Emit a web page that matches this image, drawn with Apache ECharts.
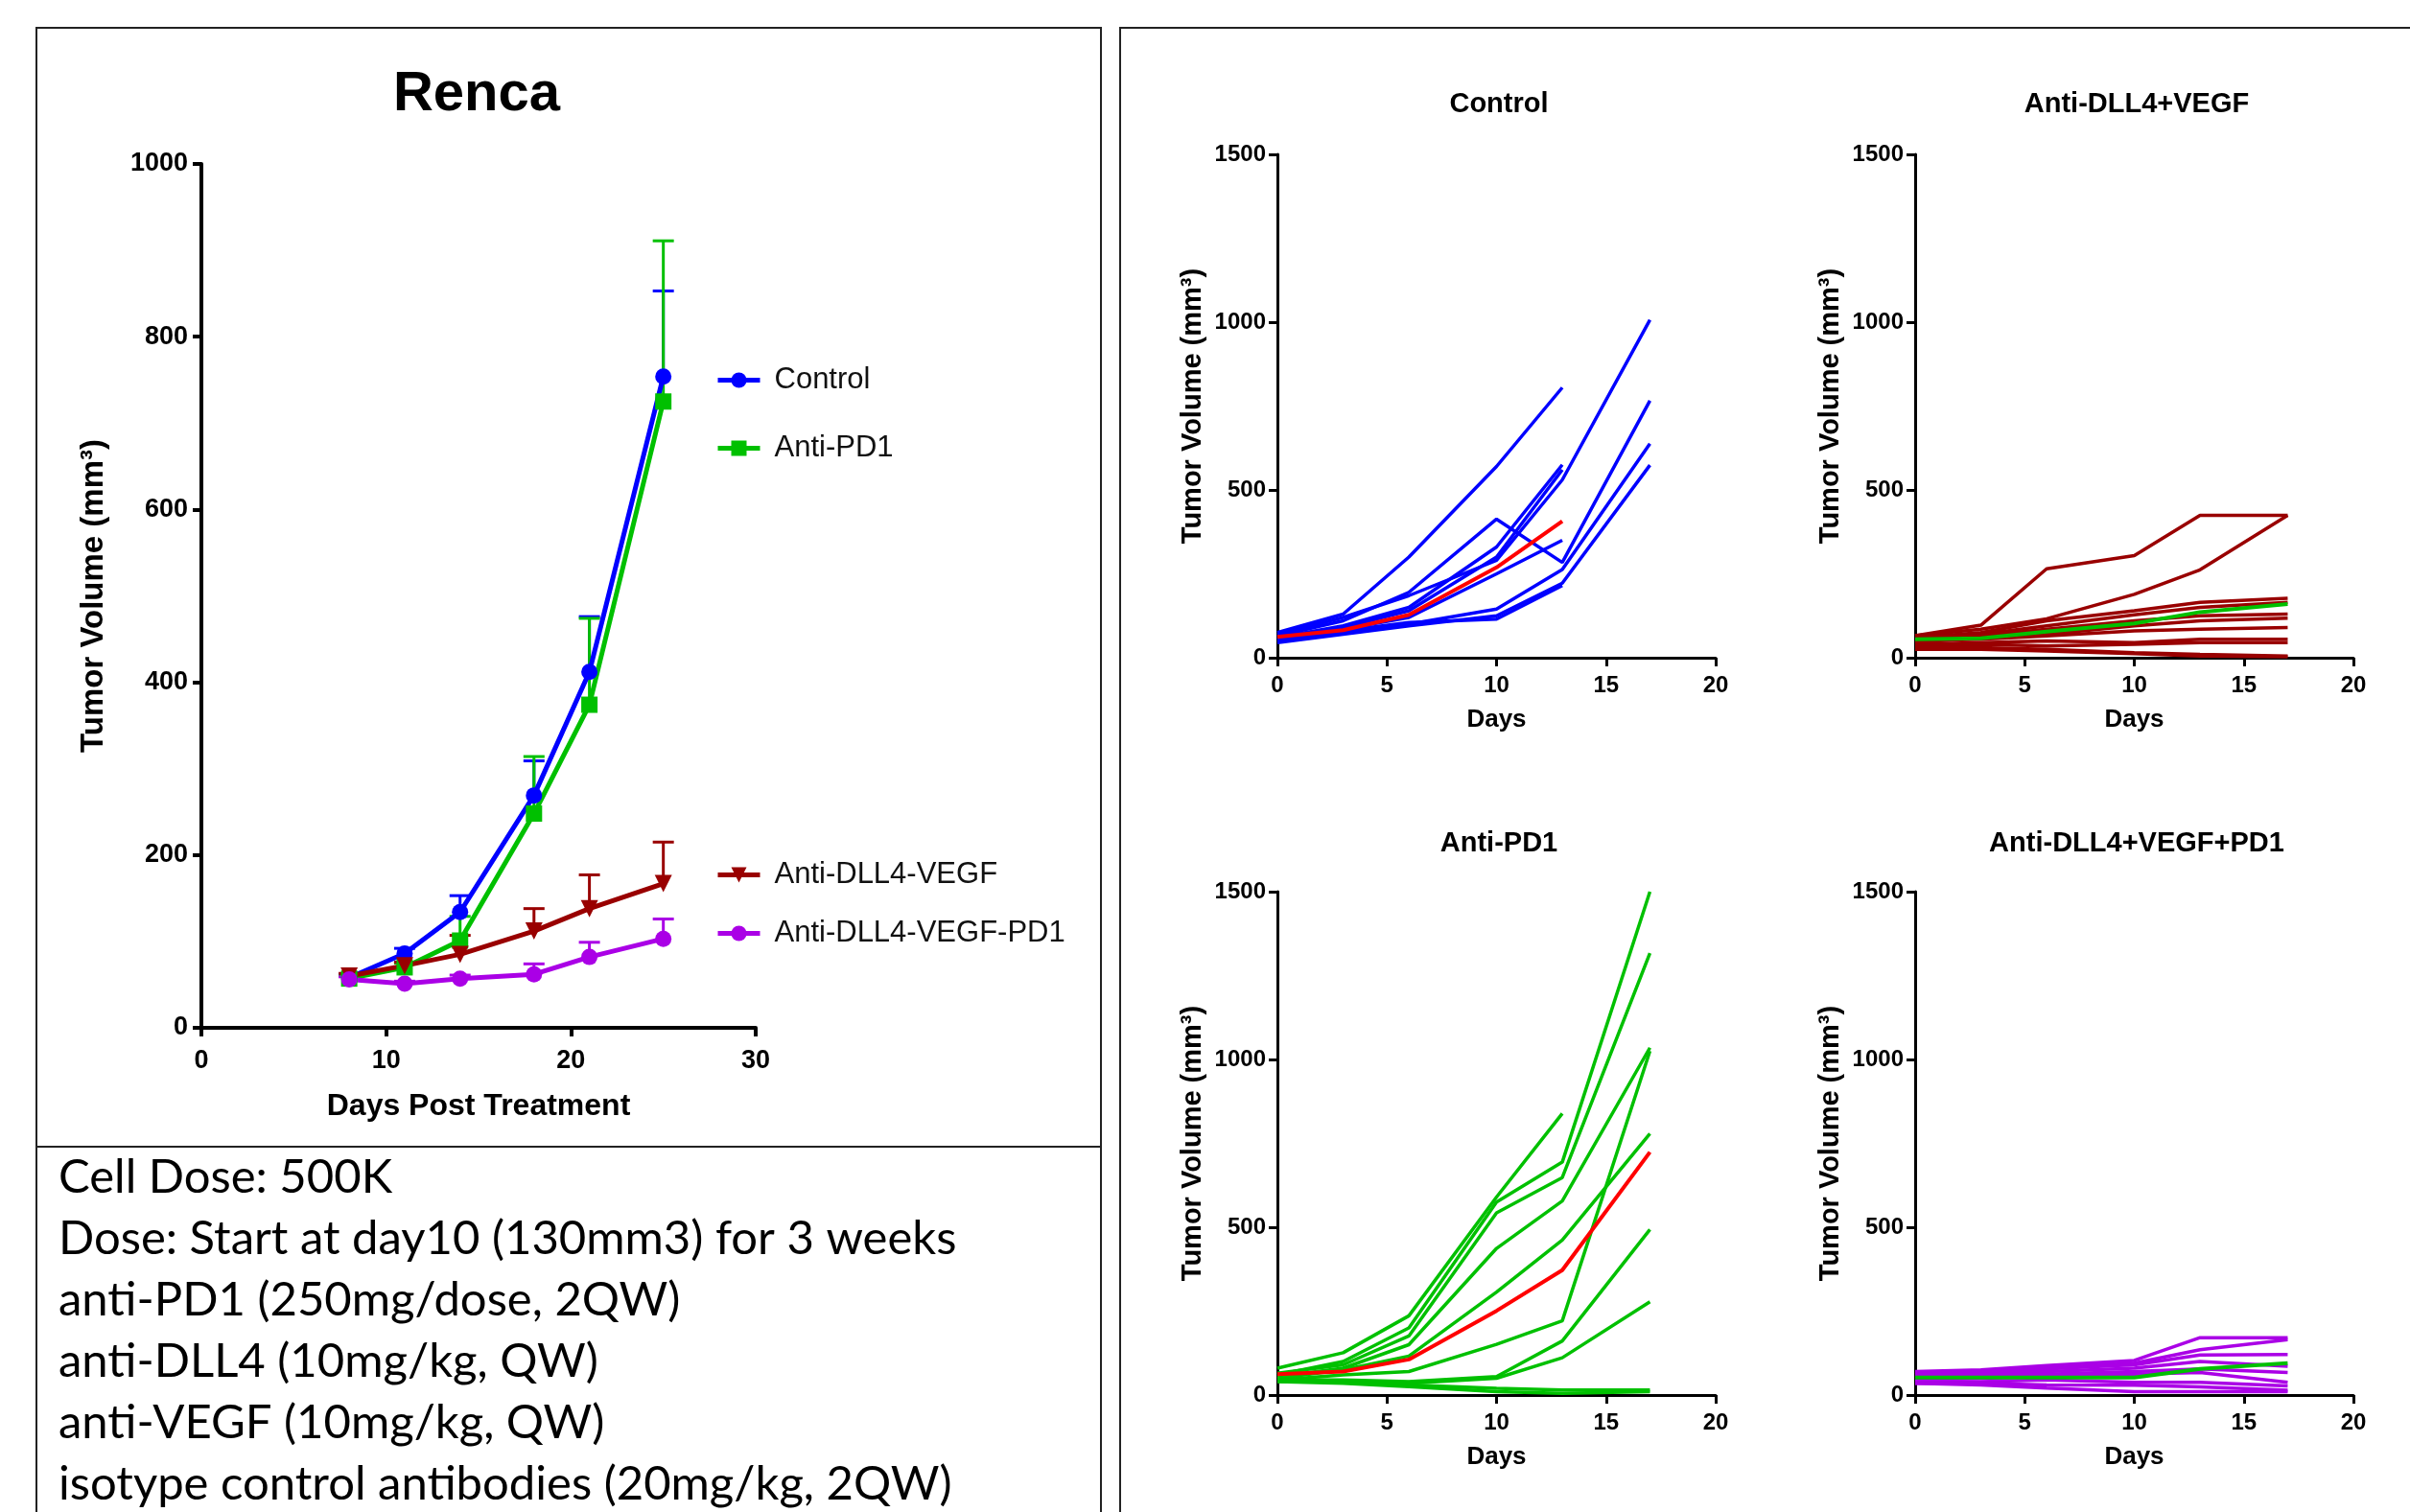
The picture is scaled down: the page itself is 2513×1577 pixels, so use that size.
<!DOCTYPE html>
<html>
<head>
<meta charset="utf-8">
<script src="https://cdn.jsdelivr.net/npm/echarts@6/dist/echarts.min.js"></script>
<style>
html, body { margin: 0; padding: 0; background: #fff; }
#main { width: 2513px; height: 1577px; }
</style>
</head>
<body>
<div id="main"></div>
<script>
// 主图：平均肿瘤体积 (Renca)
var mainDays = [8, 11, 14, 18, 21, 25];
var controlMean = [58, 86, 134, 269, 412, 754];
var controlSem = [4, 6, 19, 40, 64, 99];
var pd1Mean = [57, 70, 101, 248, 374, 725];
var pd1Sem = [3, 5, 28, 66, 100, 186];
var dllMean = [60, 72, 85, 112, 138, 167];
var dllSem = [3, 4, 22, 26, 39, 48];
var comboMean = [56, 51, 57, 62, 82, 103];
var comboSem = [3, 3, 4, 12, 17, 23];

// 小图：单只小鼠曲线
var mouseDays = [0, 3, 6, 10, 13, 17];
var controlMice = [
	[75, 130, 300, 570, 805],
	[65, 110, 195, 413, 284, 766],
	[60, 95, 150, 330, 575],
	[55, 90, 140, 300, 560],
	[70, 120, 185, 290, 530, 1007],
	[60, 85, 120, 250, 350],
	[50, 75, 100, 145, 263, 638],
	[45, 70, 95, 125, 222, 574],
	[55, 80, 105, 115, 215]
];
var controlMeanLine = [62, 82, 128, 269, 407];
var dllMice = [
	[66, 97, 265, 304, 424, 424],
	[66, 85, 116, 189, 262, 424],
	[60, 75, 110, 140, 165, 177],
	[55, 70, 95, 128, 150, 165],
	[50, 65, 85, 110, 125, 130],
	[45, 60, 70, 95, 110, 118],
	[50, 55, 65, 80, 85, 90],
	[40, 45, 50, 45, 55, 55],
	[35, 40, 35, 40, 45, 45],
	[30, 30, 25, 15, 10, 5],
	[25, 25, 20, 12, 5, 3]
];
var dllMeanLine = [55, 58, 78, 102, 136, 160];
var pd1Mice = [
	[80, 126, 236, 590, 839],
	[60, 100, 200, 575, 694, 1500],
	[65, 90, 176, 543, 648, 1317],
	[55, 80, 150, 437, 578, 1035],
	[50, 75, 116, 307, 462, 779],
	[45, 60, 70, 151, 221, 1025],
	[45, 45, 40, 55, 161, 493],
	[40, 40, 35, 50, 111, 278],
	[45, 40, 30, 20, 15, 15],
	[40, 35, 25, 10, 5, 10]
];
var pd1MeanLine = [62, 70, 106, 251, 372, 724];
var comboMice = [
	[70, 75, 88, 103, 171, 171],
	[65, 72, 80, 95, 135, 165],
	[60, 68, 78, 90, 119, 121],
	[55, 62, 70, 80, 100, 86],
	[50, 55, 62, 70, 78, 67],
	[45, 50, 55, 62, 67, 38],
	[40, 40, 45, 38, 38, 27],
	[35, 35, 30, 29, 24, 14],
	[35, 30, 21, 10, 10, 10]
];
var comboMeanLine = [52, 52, 52, 52, 78, 95];

var notes = [
	'Cell Dose: 500K',
	'Dose: Start at day10 (130mm3) for 3 weeks',
	'anti-PD1 (250mg/dose, 2QW)',
	'anti-DLL4 (10mg/kg, QW)',
	'anti-VEGF (10mg/kg, QW)',
	'isotype control antibodies (20mg/kg, 2QW)'
];

(function () {
	var myChart = echarts.init(document.getElementById('main'));
	var FONT = '"Liberation Sans", Arial, sans-serif';
	var BLUE = '#0000ff', GREEN = '#00c000', DRED = '#990000', PURPLE = '#aa00e6', RED = '#ff0000';

	function pairs(days, vals) {
		return vals.map(function (v, i) { return [days[i], v]; });
	}
	// 不要千位分隔符
	function plain(v) { return String(v); }

	// 误差线 (只画上半部分)
	function errorSeries(name, color, means, sems) {
		return {
			type: 'custom',
			name: name,
			xAxisIndex: 0,
			yAxisIndex: 0,
			z: 1,
			data: mainDays.map(function (d, i) { return [d, means[i], sems[i]]; }),
			renderItem: function (params, api) {
				var x = api.value(0), m = api.value(1), e = api.value(2);
				var p0 = api.coord([x, m]);
				var p1 = api.coord([x, m + e]);
				var hw = 11;
				return {
					type: 'group',
					children: [
						{ type: 'line', shape: { x1: p0[0], y1: p0[1], x2: p1[0], y2: p1[1] }, style: { stroke: color, lineWidth: 3 } },
						{ type: 'line', shape: { x1: p1[0] - hw, y1: p1[1], x2: p1[0] + hw, y2: p1[1] }, style: { stroke: color, lineWidth: 3 } }
					]
				};
			}
		};
	}

	function meanSeries(name, color, means, symbol, rotate) {
		return {
			type: 'line',
			name: name,
			xAxisIndex: 0,
			yAxisIndex: 0,
			z: 3,
			data: pairs(mainDays, means),
			symbol: symbol,
			symbolRotate: rotate || 0,
			symbolSize: symbol === 'triangle' ? 18 : 17,
			showAllSymbol: true,
			lineStyle: { color: color, width: 5 },
			itemStyle: { color: color }
		};
	}

	// 小图坐标轴
	function smallX(idx) {
		return {
			type: 'value', gridIndex: idx, min: 0, max: 20, interval: 5,
			name: 'Days', nameLocation: 'middle', nameGap: 52,
			nameTextStyle: { color: '#000', fontWeight: 'bold', fontSize: 26, fontFamily: FONT },
			axisLine: { lineStyle: { color: '#000', width: 3 } },
			axisTick: { length: 9, lineStyle: { color: '#000', width: 3 } },
			axisLabel: { color: '#000', fontWeight: 'bold', fontSize: 24, fontFamily: FONT, margin: 17, formatter: plain },
			splitLine: { show: false }
		};
	}
	function smallY(idx) {
		return {
			type: 'value', gridIndex: idx, min: 0, max: 1500, interval: 500,
			name: 'Tumor Volume (mm\u00b3)', nameLocation: 'middle', nameGap: 74,
			nameTextStyle: { color: '#000', fontWeight: 'bold', fontSize: 29, fontFamily: FONT },
			axisLine: { lineStyle: { color: '#000', width: 3 } },
			axisTick: { length: 9, lineStyle: { color: '#000', width: 3 } },
			axisLabel: { color: '#000', fontWeight: 'bold', fontSize: 24, fontFamily: FONT, margin: 12, formatter: plain },
			splitLine: { show: false }
		};
	}

	function miceSeries(idx, mice, color, meanVals, meanColor) {
		var list = mice.map(function (m, k) {
			return {
				type: 'line', name: 'p' + idx + '-' + k,
				xAxisIndex: idx, yAxisIndex: idx,
				data: pairs(mouseDays, m),
				showSymbol: false, symbol: 'none',
				lineStyle: { color: color, width: 3.5 },
				z: 2
			};
		});
		list.push({
			type: 'line', name: 'p' + idx + '-mean',
			xAxisIndex: idx, yAxisIndex: idx,
			data: pairs(mouseDays, meanVals),
			showSymbol: false, symbol: 'none',
			lineStyle: { color: meanColor, width: 4 },
			z: 4
		});
		return list;
	}

	function legendAt(name, y) {
		return {
			data: [name], left: 746, top: y - 13, padding: 0,
			itemWidth: 44, itemHeight: 20,
			lineStyle: { width: 5 },
			textStyle: { color: '#111', fontSize: 31, fontFamily: FONT, padding: [0, 0, 0, 10] }
		};
	}

	var titleStyleSmall = { color: '#000', fontWeight: 'bold', fontSize: 29, fontFamily: FONT };

	var option = {
		animation: false,
		backgroundColor: '#fff',
		title: [
			{ text: 'Renca', left: 492, top: 65, textAlign: 'center', textStyle: { color: '#000', fontWeight: 'bold', fontSize: 58, fontFamily: FONT } },
			{ text: 'Control', left: 1558, top: 89, textAlign: 'center', textStyle: titleStyleSmall },
			{ text: 'Anti-DLL4+VEGF', left: 2223, top: 89, textAlign: 'center', textStyle: titleStyleSmall },
			{ text: 'Anti-PD1', left: 1558, top: 860, textAlign: 'center', textStyle: titleStyleSmall },
			{ text: 'Anti-DLL4+VEGF+PD1', left: 2223, top: 860, textAlign: 'center', textStyle: titleStyleSmall }
		],
		legend: [
			legendAt('Control', 394),
			legendAt('Anti-PD1', 465),
			legendAt('Anti-DLL4-VEGF', 910),
			legendAt('Anti-DLL4-VEGF-PD1', 971)
		],
		grid: [
			{ left: 210, top: 171, width: 578, height: 901 },
			{ left: 1332, top: 161, width: 457, height: 525 },
			{ left: 1997, top: 161, width: 457, height: 525 },
			{ left: 1332, top: 930, width: 457, height: 525 },
			{ left: 1997, top: 930, width: 457, height: 525 }
		],
		xAxis: [
			{
				type: 'value', gridIndex: 0, min: 0, max: 30, interval: 10,
				name: 'Days Post Treatment', nameLocation: 'middle', nameGap: 66,
				nameTextStyle: { color: '#000', fontWeight: 'bold', fontSize: 32, fontFamily: FONT },
				axisLine: { lineStyle: { color: '#000', width: 4 } },
				axisTick: { length: 9, lineStyle: { color: '#000', width: 4 } },
				axisLabel: { color: '#000', fontWeight: 'bold', fontSize: 27, fontFamily: FONT, margin: 21, formatter: plain },
				splitLine: { show: false }
			},
			smallX(1), smallX(2), smallX(3), smallX(4)
		],
		yAxis: [
			{
				type: 'value', gridIndex: 0, min: 0, max: 1000, interval: 200,
				name: 'Tumor Volume (mm\u00b3)', nameLocation: 'middle', nameGap: 96,
				nameTextStyle: { color: '#000', fontWeight: 'bold', fontSize: 33, fontFamily: FONT },
				axisLine: { lineStyle: { color: '#000', width: 4 } },
				axisTick: { length: 9, lineStyle: { color: '#000', width: 4 } },
				axisLabel: { color: '#000', fontWeight: 'bold', fontSize: 27, fontFamily: FONT, margin: 14, formatter: plain },
				splitLine: { show: false }
			},
			smallY(1), smallY(2), smallY(3), smallY(4)
		],
		series: [].concat(
			[
				errorSeries('Control SEM', BLUE, controlMean, controlSem),
				errorSeries('Anti-PD1 SEM', GREEN, pd1Mean, pd1Sem),
				errorSeries('Anti-DLL4-VEGF SEM', DRED, dllMean, dllSem),
				errorSeries('Anti-DLL4-VEGF-PD1 SEM', PURPLE, comboMean, comboSem),
				meanSeries('Control', BLUE, controlMean, 'circle'),
				meanSeries('Anti-PD1', GREEN, pd1Mean, 'rect'),
				meanSeries('Anti-DLL4-VEGF', DRED, dllMean, 'triangle', 180),
				meanSeries('Anti-DLL4-VEGF-PD1', PURPLE, comboMean, 'circle')
			],
			miceSeries(1, controlMice, BLUE, controlMeanLine, RED),
			miceSeries(2, dllMice, DRED, dllMeanLine, GREEN),
			miceSeries(3, pd1Mice, GREEN, pd1MeanLine, RED),
			miceSeries(4, comboMice, PURPLE, comboMeanLine, GREEN)
		),
		graphic: [
			// 边框
			{ type: 'rect', shape: { x: 38, y: 29, width: 1110, height: 1167 }, style: { fill: 'none', stroke: '#222', lineWidth: 2 }, silent: true },
			{ type: 'rect', shape: { x: 38, y: 1196, width: 1110, height: 420 }, style: { fill: 'none', stroke: '#222', lineWidth: 2 }, silent: true },
			{ type: 'rect', shape: { x: 1168, y: 29, width: 1400, height: 1600 }, style: { fill: 'none', stroke: '#222', lineWidth: 2 }, silent: true }
		].concat(notes.map(function (t, i) {
			return {
				type: 'text', left: 61, top: 1234 + i * 64 - 30, silent: true,
				style: { text: t, fill: '#000', font: '49px Lato, "Liberation Sans", sans-serif' }
			};
		}))
	};

	myChart.setOption(option);
	window.addEventListener('resize', function () {
		myChart.resize();
	});
})();
</script>
</body>
</html>
